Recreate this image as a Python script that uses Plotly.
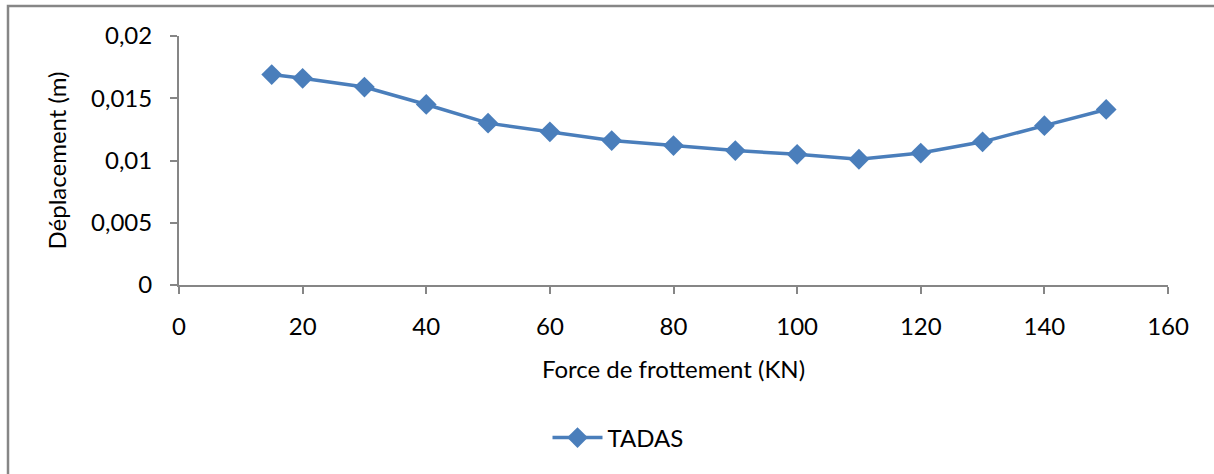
import plotly.graph_objects as go

# Friction force (kN) vs displacement (m) for the TADAS device
force_kn = [15, 20, 30, 40, 50, 60, 70, 80, 90, 100, 110, 120, 130, 140, 150]
displacement_m = [0.0169, 0.0166, 0.0159, 0.0145, 0.0130, 0.0123, 0.0116, 0.0112,
                  0.0108, 0.0105, 0.0101, 0.0106, 0.0115, 0.0128, 0.0141]

x_ticks = [0, 20, 40, 60, 80, 100, 120, 140, 160]
y_ticks = [0, 0.005, 0.01, 0.015, 0.02]
y_tick_text = ["0", "0,005", "0,01", "0,015", "0,02"]

series_color = "#4a7ebb"
axis_color = "#868686"
font_family = "Lato, 'Open Sans', sans-serif"
font_size = 24

fig = go.Figure()
fig.add_trace(go.Scatter(
    x=force_kn, y=displacement_m, mode="lines+markers", name="TADAS",
    line=dict(color=series_color, width=3.5),
    marker=dict(symbol="diamond", size=16, color=series_color),
))

fig.update_layout(
    width=1214, height=474,
    margin=dict(l=179, r=46, t=36, b=189, autoexpand=False),
    paper_bgcolor="white", plot_bgcolor="white",
    font=dict(family=font_family, size=font_size, color="#000000"),
    showlegend=True,
    legend=dict(orientation="h", xref="container", yref="container",
                x=0.5 + 11 / 1214, xanchor="center", y=1 - 438 / 474, yanchor="middle",
                font=dict(size=font_size), itemwidth=50),
    xaxis=dict(
        range=[0, 160], tickvals=x_ticks, showgrid=False, zeroline=False,
        showline=True, linecolor=axis_color, linewidth=2,
        ticks="outside", ticklen=7, tickwidth=2, tickcolor=axis_color,
        ticklabelstandoff=12, automargin=False,
        title=dict(text="Force de frottement (KN)", standoff=22, font=dict(size=font_size)),
    ),
    yaxis=dict(
        range=[0, 0.02], tickvals=y_ticks, ticktext=y_tick_text, showgrid=False,
        zeroline=False, showline=True, linecolor=axis_color, linewidth=2,
        ticks="outside", ticklen=7, tickwidth=2, tickcolor=axis_color,
        ticklabelstandoff=13, automargin=False,
        title=dict(text="Déplacement (m)", standoff=18, font=dict(size=font_size)),
    ),
    shapes=[dict(type="rect", xref="paper", yref="paper",
                 x0=-171 / 989, x1=1.1, y0=-1.0, y1=1 + 30 / 249,
                 line=dict(color=axis_color, width=2.5), layer="below")],
)

fig.write_html("out.html")
